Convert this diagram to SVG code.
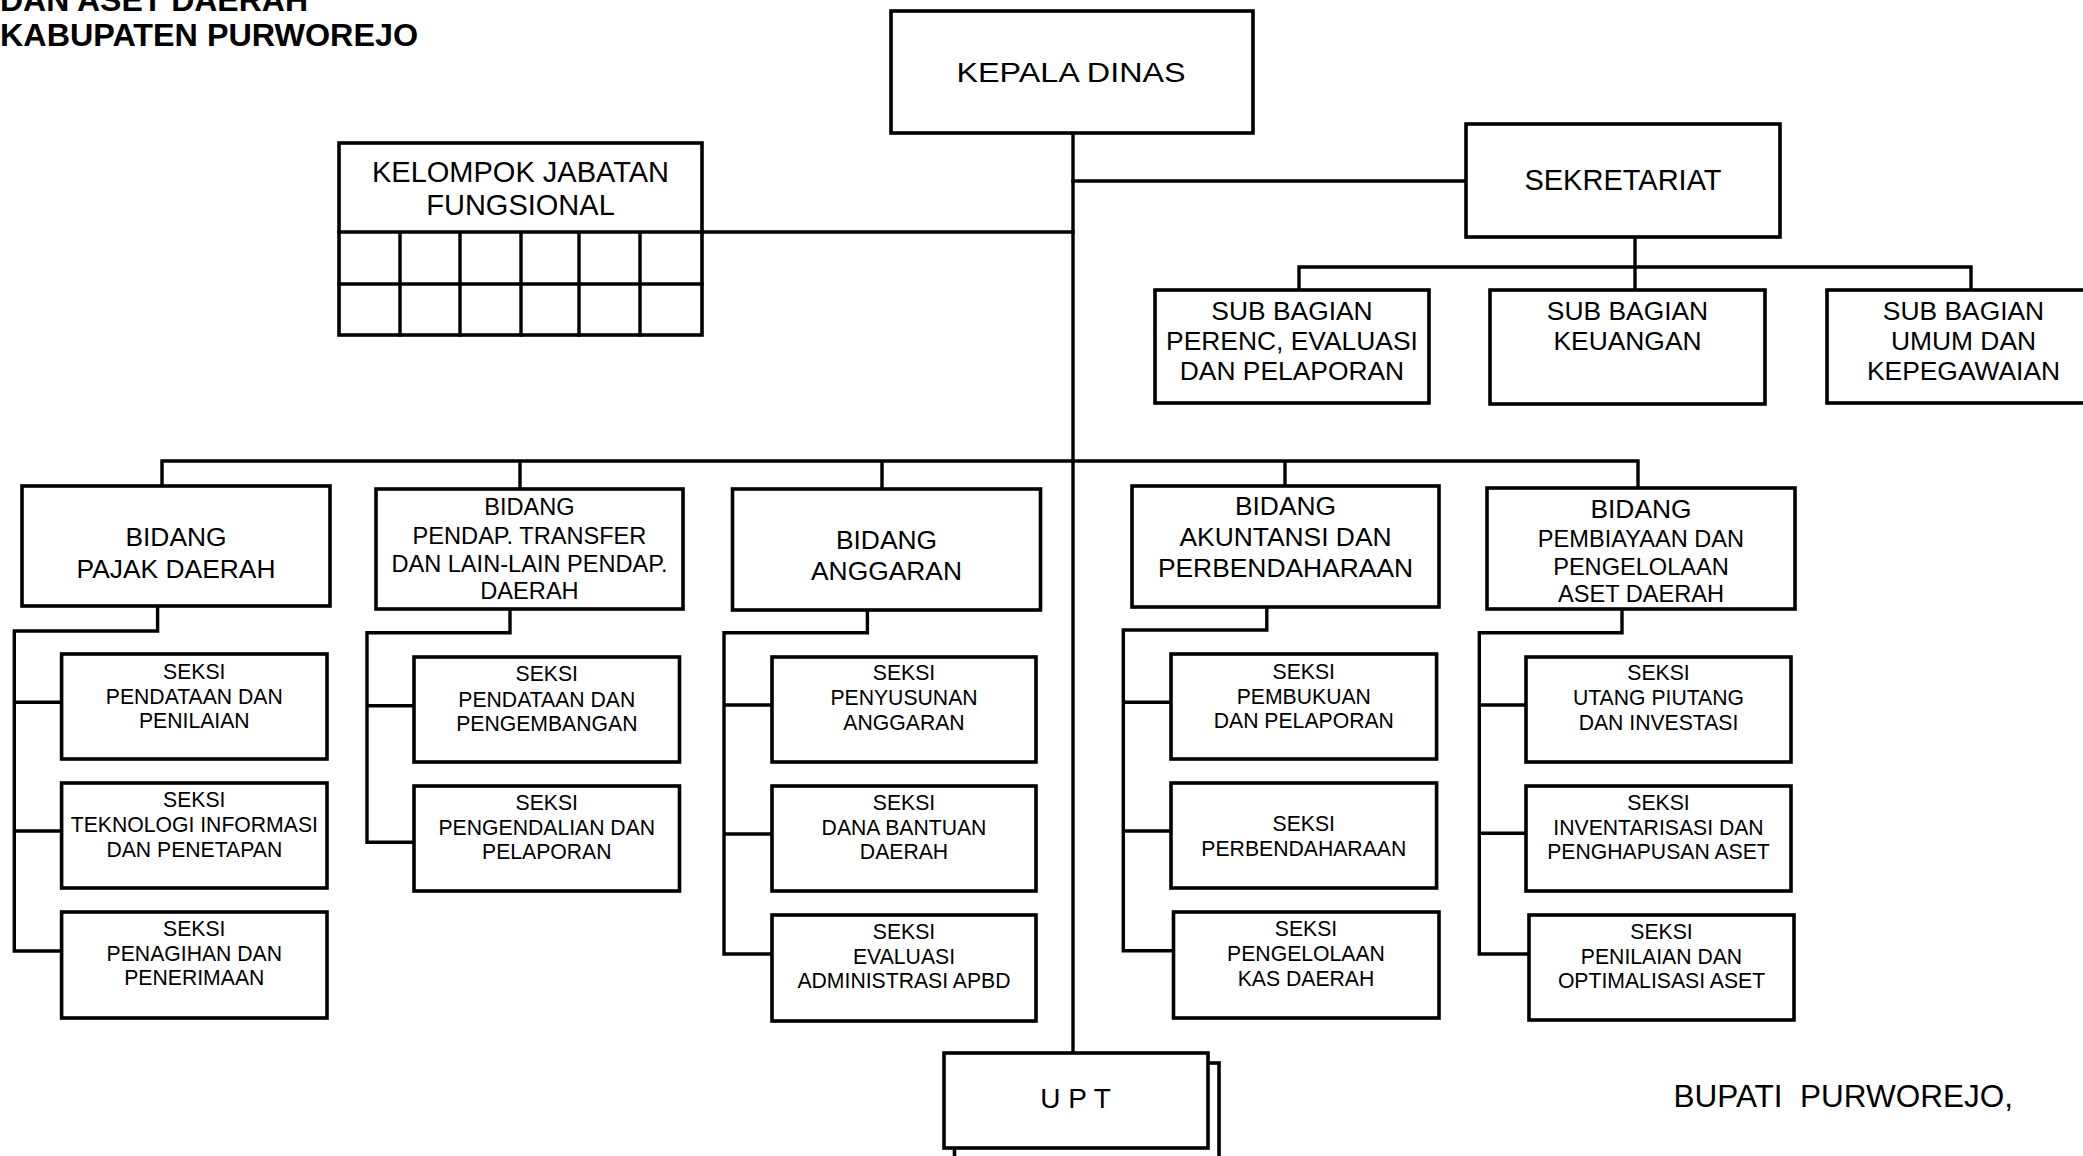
<svg xmlns="http://www.w3.org/2000/svg" width="2083" height="1156" viewBox="0 0 2083 1156">
<style>
.bg{fill:#fff}
.box{fill:#fff;stroke:#000;stroke-width:3.6}
.ln{fill:none;stroke:#000;stroke-width:3.4;stroke-linecap:square;stroke-linejoin:miter}
text{font-family:"Liberation Sans",Arial,Helvetica,sans-serif;fill:#000;text-anchor:middle}
.title{font-weight:bold;font-size:31.8px;text-anchor:start}
.f32{font-size:28.5px}
.f29{font-size:29px}
.f26{font-size:26.4px}
.f24{font-size:23.6px}
.f21{font-size:21.2px}
.f28{font-size:28px}
.sign{font-size:31.5px;text-anchor:start}
</style>
<rect class="bg" x="0" y="0" width="2083" height="1156"/>

<g id="title">
<text class="title" x="0" y="11" textLength="308" lengthAdjust="spacingAndGlyphs">DAN ASET DAERAH</text>
<text class="title" x="0" y="46" textLength="418" lengthAdjust="spacingAndGlyphs">KABUPATEN PURWOREJO</text>
</g>

<g id="connectors">
<path class="ln" d="M1073 133 V1053"/>
<path class="ln" d="M702 232 H1073"/>
<path class="ln" d="M1073 181 H1466"/>
<path class="ln" d="M1635 237 V290 M1299 290 V267 H1971 V290"/>
<path class="ln" d="M162 486 V461 H1638 V488 M520 461 V489 M882 464 V489 M1285 461 V486"/>
<path class="ln" d="M157.6 606 V631 H14.3 V951 H61.6 M14.3 702.3 H61.6 M14.3 831 H61.6"/>
<path class="ln" d="M510 609 V632.7 H367 V842.3 H414 M367 705.7 H414"/>
<path class="ln" d="M867.4 610 V632.7 H724 V954 H771.7 M724 705 H771.7 M724 834 H771.7"/>
<path class="ln" d="M1266.8 607 V630 H1123.3 V950.7 H1173.5 M1123.3 702.3 H1171 M1123.3 831 H1171"/>
<path class="ln" d="M1622 609 V632.7 H1479.3 V954 H1529 M1479.3 705 H1526 M1479.3 833.3 H1526"/>
</g>

<g id="kepala-dinas">
<rect class="box" x="891" y="11" width="362" height="122"/>
<text class="f32" x="1071" y="82" textLength="229" lengthAdjust="spacingAndGlyphs">KEPALA DINAS</text>
</g>

<g id="kelompok-jabatan-fungsional">
<rect class="box" x="339" y="143" width="363" height="192"/>
<path class="ln" d="M339 232 H702 M339 284 H702 M400 232 V335 M460 232 V335 M521 232 V335 M579 232 V335 M640 232 V335"/>
<text class="f29" x="520.5" y="182">KELOMPOK JABATAN</text>
<text class="f29" x="520.5" y="215">FUNGSIONAL</text>
</g>

<g id="sekretariat">
<rect class="box" x="1466" y="124" width="314" height="113"/>
<text class="f29" x="1623" y="190">SEKRETARIAT</text>
</g>

<g id="subbag-perenc">
<rect class="box" x="1155" y="290" width="274" height="113"/>
<text class="f26" x="1292" y="320">SUB BAGIAN</text>
<text class="f26" x="1292" y="350">PERENC, EVALUASI</text>
<text class="f26" x="1292" y="380">DAN PELAPORAN</text>
</g>

<g id="subbag-keuangan">
<rect class="box" x="1490" y="290" width="275" height="114"/>
<text class="f26" x="1627.5" y="320">SUB BAGIAN</text>
<text class="f26" x="1627.5" y="350">KEUANGAN</text>
</g>

<g id="subbag-umum">
<rect class="box" x="1827" y="290" width="273" height="113"/>
<text class="f26" x="1963.5" y="320">SUB BAGIAN</text>
<text class="f26" x="1963.5" y="350">UMUM DAN</text>
<text class="f26" x="1963.5" y="380">KEPEGAWAIAN</text>
</g>

<g id="bidang-pajak">
<rect class="box" x="22" y="486" width="308" height="120"/>
<text class="f26" x="176" y="546">BIDANG</text>
<text class="f26" x="176" y="578">PAJAK DAERAH</text>
</g>

<g id="bidang-pendapatan">
<rect class="box" x="376" y="489" width="307" height="120"/>
<text class="f24" x="529.5" y="515">BIDANG</text>
<text class="f24" x="529.5" y="544">PENDAP. TRANSFER</text>
<text class="f24" x="529.5" y="572">DAN LAIN-LAIN PENDAP.</text>
<text class="f24" x="529.5" y="599">DAERAH</text>
</g>

<g id="bidang-anggaran">
<rect class="box" x="732.5" y="489" width="308" height="121"/>
<text class="f26" x="886.5" y="549">BIDANG</text>
<text class="f26" x="886.5" y="579.5">ANGGARAN</text>
</g>

<g id="bidang-akuntansi">
<rect class="box" x="1132" y="486" width="307" height="121"/>
<text class="f26" x="1285.5" y="515">BIDANG</text>
<text class="f26" x="1285.5" y="546">AKUNTANSI DAN</text>
<text class="f26" x="1285.5" y="577">PERBENDAHARAAN</text>
</g>

<g id="bidang-pembiayaan">
<rect class="box" x="1487" y="488" width="308" height="121"/>
<text class="f26" x="1641" y="518">BIDANG</text>
<text class="f24" x="1641" y="547">PEMBIAYAAN DAN</text>
<text class="f24" x="1641" y="574.5">PENGELOLAAN</text>
<text class="f24" x="1641" y="602">ASET DAERAH</text>
</g>

<g id="seksi-pendataan-penilaian">
<rect class="box" x="61.6" y="654" width="265.4" height="105"/>
<text class="f21" x="194.3" y="679">SEKSI</text>
<text class="f21" x="194.3" y="704">PENDATAAN DAN</text>
<text class="f21" x="194.3" y="728">PENILAIAN</text>
</g>
<g id="seksi-teknologi">
<rect class="box" x="61.6" y="783" width="265.4" height="105"/>
<text class="f21" x="194.3" y="807">SEKSI</text>
<text class="f21" x="194.3" y="832">TEKNOLOGI INFORMASI</text>
<text class="f21" x="194.3" y="857">DAN PENETAPAN</text>
</g>
<g id="seksi-penagihan">
<rect class="box" x="61.6" y="912" width="265.4" height="106"/>
<text class="f21" x="194.3" y="936">SEKSI</text>
<text class="f21" x="194.3" y="961">PENAGIHAN DAN</text>
<text class="f21" x="194.3" y="985">PENERIMAAN</text>
</g>

<g id="seksi-pendataan-pengembangan">
<rect class="box" x="414" y="657" width="265.5" height="105"/>
<text class="f21" x="546.8" y="681">SEKSI</text>
<text class="f21" x="546.8" y="706.5">PENDATAAN DAN</text>
<text class="f21" x="546.8" y="730.5">PENGEMBANGAN</text>
</g>
<g id="seksi-pengendalian">
<rect class="box" x="414" y="786" width="265.5" height="105"/>
<text class="f21" x="546.8" y="810">SEKSI</text>
<text class="f21" x="546.8" y="834.5">PENGENDALIAN DAN</text>
<text class="f21" x="546.8" y="859">PELAPORAN</text>
</g>

<g id="seksi-penyusunan">
<rect class="box" x="772" y="657" width="264" height="105"/>
<text class="f21" x="904" y="680">SEKSI</text>
<text class="f21" x="904" y="705">PENYUSUNAN</text>
<text class="f21" x="904" y="729.5">ANGGARAN</text>
</g>
<g id="seksi-dana-bantuan">
<rect class="box" x="772" y="786" width="264" height="105"/>
<text class="f21" x="904" y="810">SEKSI</text>
<text class="f21" x="904" y="835">DANA BANTUAN</text>
<text class="f21" x="904" y="859">DAERAH</text>
</g>
<g id="seksi-evaluasi">
<rect class="box" x="772" y="915" width="264" height="106"/>
<text class="f21" x="904" y="938.5">SEKSI</text>
<text class="f21" x="904" y="963.5">EVALUASI</text>
<text class="f21" x="904" y="988">ADMINISTRASI APBD</text>
</g>

<g id="seksi-pembukuan">
<rect class="box" x="1171" y="654" width="265.6" height="105"/>
<text class="f21" x="1303.8" y="678.5">SEKSI</text>
<text class="f21" x="1303.8" y="703.5">PEMBUKUAN</text>
<text class="f21" x="1303.8" y="728">DAN PELAPORAN</text>
</g>
<g id="seksi-perbendaharaan">
<rect class="box" x="1171" y="783" width="265.6" height="105"/>
<text class="f21" x="1303.8" y="831">SEKSI</text>
<text class="f21" x="1303.8" y="856">PERBENDAHARAAN</text>
</g>
<g id="seksi-kas-daerah">
<rect class="box" x="1173.5" y="912" width="265.5" height="106"/>
<text class="f21" x="1306" y="936">SEKSI</text>
<text class="f21" x="1306" y="961">PENGELOLAAN</text>
<text class="f21" x="1306" y="986">KAS DAERAH</text>
</g>

<g id="seksi-utang-piutang">
<rect class="box" x="1526" y="657" width="265" height="105"/>
<text class="f21" x="1658.5" y="680">SEKSI</text>
<text class="f21" x="1658.5" y="705">UTANG PIUTANG</text>
<text class="f21" x="1658.5" y="729.5">DAN INVESTASI</text>
</g>
<g id="seksi-inventarisasi">
<rect class="box" x="1526" y="786" width="265" height="105"/>
<text class="f21" x="1658.5" y="810">SEKSI</text>
<text class="f21" x="1658.5" y="835">INVENTARISASI DAN</text>
<text class="f21" x="1658.5" y="859">PENGHAPUSAN ASET</text>
</g>
<g id="seksi-penilaian-optimalisasi">
<rect class="box" x="1529" y="915" width="265" height="105"/>
<text class="f21" x="1661.5" y="938.5">SEKSI</text>
<text class="f21" x="1661.5" y="963.5">PENILAIAN DAN</text>
<text class="f21" x="1661.5" y="987.5">OPTIMALISASI ASET</text>
</g>

<g id="upt">
<rect class="box" x="954.5" y="1063" width="264.5" height="100"/>
<rect class="box" x="944" y="1053" width="264" height="95"/>
<text class="f28" x="1075.5" y="1108">U P T</text>
</g>

<g id="signature">
<text class="sign" x="1673.5" y="1107" xml:space="preserve">BUPATI  PURWOREJO,</text>
</g>
</svg>
